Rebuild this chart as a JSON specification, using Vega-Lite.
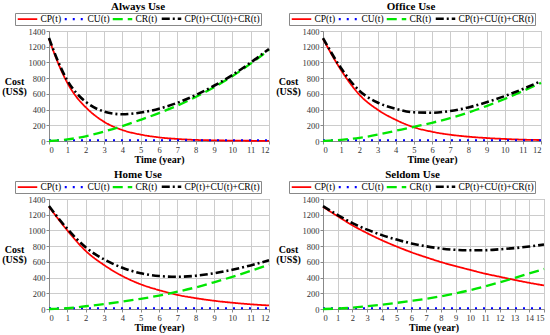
{
  "$schema": "https://vega.github.io/schema/vega-lite/v6.json",
  "padding": {"left": 1, "top": 0, "right": 0, "bottom": 0},
  "background": "white",
  "config": {
    "view": {"stroke": "#999999", "strokeWidth": 1},
    "title": {"font": "Liberation Serif", "fontSize": 11, "fontWeight": "bold", "color": "#000", "offset": 1, "frame": "bounds", "anchor": "middle"},
    "axis": {"grid": true, "gridColor": "#cccccc", "gridWidth": 1, "domainColor": "#888888", "tickSize": 3, "tickColor": "#888888", "labelFont": "Liberation Serif", "labelFontSize": 8.5, "labelColor": "#333333", "labelPadding": 1, "titleFont": "Liberation Serif", "titleFontSize": 10, "titleFontWeight": "bold", "titleColor": "#000", "titleLineHeight": 10.5},
    "legend": {"labelFont": "Liberation Serif", "labelFontSize": 9.5, "labelColor": "#000", "symbolType": "M-1,0H5.5", "symbolSize": 36, "strokeColor": "#888888", "padding": 1, "columnPadding": -2, "labelOffset": 15, "symbolStrokeWidth": 2}
  },
  "datasets": {
    "always": [
      {"t":0,"s":"CP(t)","v":1300},{"t":0.5,"s":"CP(t)","v":990},{"t":1,"s":"CP(t)","v":740},{"t":1.5,"s":"CP(t)","v":560},{"t":2,"s":"CP(t)","v":430},{"t":3,"s":"CP(t)","v":245},{"t":4,"s":"CP(t)","v":140},{"t":5,"s":"CP(t)","v":82},{"t":6,"s":"CP(t)","v":46},{"t":7,"s":"CP(t)","v":26},{"t":8,"s":"CP(t)","v":14},{"t":9,"s":"CP(t)","v":8},{"t":10,"s":"CP(t)","v":5},{"t":11,"s":"CP(t)","v":3},{"t":12,"s":"CP(t)","v":2},
      {"t":0,"s":"CU(t)","v":10},{"t":12,"s":"CU(t)","v":10},
      {"t":0,"s":"CR(t)","v":0},{"t":1,"s":"CR(t)","v":20},{"t":2,"s":"CR(t)","v":60},{"t":3,"s":"CR(t)","v":120},{"t":4,"s":"CR(t)","v":190},{"t":5,"s":"CR(t)","v":270},{"t":6,"s":"CR(t)","v":355},{"t":7,"s":"CR(t)","v":450},{"t":8,"s":"CR(t)","v":560},{"t":9,"s":"CR(t)","v":685},{"t":10,"s":"CR(t)","v":825},{"t":11,"s":"CR(t)","v":985},{"t":12,"s":"CR(t)","v":1160},
      {"t":0,"s":"CP(t)+CU(t)+CR(t)","v":1310},{"t":0.5,"s":"CP(t)+CU(t)+CR(t)","v":1010},{"t":1,"s":"CP(t)+CU(t)+CR(t)","v":770},{"t":1.5,"s":"CP(t)+CU(t)+CR(t)","v":610},{"t":2,"s":"CP(t)+CU(t)+CR(t)","v":500},{"t":3,"s":"CP(t)+CU(t)+CR(t)","v":375},{"t":4,"s":"CP(t)+CU(t)+CR(t)","v":340},{"t":5,"s":"CP(t)+CU(t)+CR(t)","v":362},{"t":6,"s":"CP(t)+CU(t)+CR(t)","v":411},{"t":7,"s":"CP(t)+CU(t)+CR(t)","v":486},{"t":8,"s":"CP(t)+CU(t)+CR(t)","v":584},{"t":9,"s":"CP(t)+CU(t)+CR(t)","v":703},{"t":10,"s":"CP(t)+CU(t)+CR(t)","v":840},{"t":11,"s":"CP(t)+CU(t)+CR(t)","v":998},{"t":12,"s":"CP(t)+CU(t)+CR(t)","v":1172}
    ],
    "office": [
      {"t":0,"s":"CP(t)","v":1300},{"t":1,"s":"CP(t)","v":900},{"t":2,"s":"CP(t)","v":590},{"t":3,"s":"CP(t)","v":400},{"t":4,"s":"CP(t)","v":270},{"t":5,"s":"CP(t)","v":175},{"t":6,"s":"CP(t)","v":118},{"t":7,"s":"CP(t)","v":80},{"t":8,"s":"CP(t)","v":55},{"t":9,"s":"CP(t)","v":38},{"t":10,"s":"CP(t)","v":26},{"t":11,"s":"CP(t)","v":17},{"t":12,"s":"CP(t)","v":12},
      {"t":0,"s":"CU(t)","v":10},{"t":12,"s":"CU(t)","v":10},
      {"t":0,"s":"CR(t)","v":0},{"t":1,"s":"CR(t)","v":15},{"t":2,"s":"CR(t)","v":40},{"t":3,"s":"CR(t)","v":80},{"t":4,"s":"CR(t)","v":130},{"t":5,"s":"CR(t)","v":180},{"t":6,"s":"CR(t)","v":232},{"t":7,"s":"CR(t)","v":292},{"t":8,"s":"CR(t)","v":362},{"t":9,"s":"CR(t)","v":445},{"t":10,"s":"CR(t)","v":535},{"t":11,"s":"CR(t)","v":635},{"t":12,"s":"CR(t)","v":740},
      {"t":0,"s":"CP(t)+CU(t)+CR(t)","v":1310},{"t":1,"s":"CP(t)+CU(t)+CR(t)","v":925},{"t":2,"s":"CP(t)+CU(t)+CR(t)","v":640},{"t":3,"s":"CP(t)+CU(t)+CR(t)","v":490},{"t":4,"s":"CP(t)+CU(t)+CR(t)","v":410},{"t":5,"s":"CP(t)+CU(t)+CR(t)","v":365},{"t":6,"s":"CP(t)+CU(t)+CR(t)","v":360},{"t":7,"s":"CP(t)+CU(t)+CR(t)","v":382},{"t":8,"s":"CP(t)+CU(t)+CR(t)","v":427},{"t":9,"s":"CP(t)+CU(t)+CR(t)","v":493},{"t":10,"s":"CP(t)+CU(t)+CR(t)","v":571},{"t":11,"s":"CP(t)+CU(t)+CR(t)","v":662},{"t":12,"s":"CP(t)+CU(t)+CR(t)","v":762}
    ],
    "home": [
      {"t":0,"s":"CP(t)","v":1300},{"t":1,"s":"CP(t)","v":1000},{"t":2,"s":"CP(t)","v":740},{"t":3,"s":"CP(t)","v":560},{"t":4,"s":"CP(t)","v":420},{"t":5,"s":"CP(t)","v":315},{"t":6,"s":"CP(t)","v":240},{"t":7,"s":"CP(t)","v":180},{"t":8,"s":"CP(t)","v":138},{"t":9,"s":"CP(t)","v":105},{"t":10,"s":"CP(t)","v":80},{"t":11,"s":"CP(t)","v":60},{"t":12,"s":"CP(t)","v":45},
      {"t":0,"s":"CU(t)","v":10},{"t":12,"s":"CU(t)","v":10},
      {"t":0,"s":"CR(t)","v":0},{"t":1,"s":"CR(t)","v":10},{"t":2,"s":"CR(t)","v":35},{"t":3,"s":"CR(t)","v":62},{"t":4,"s":"CR(t)","v":95},{"t":5,"s":"CR(t)","v":130},{"t":6,"s":"CR(t)","v":170},{"t":7,"s":"CR(t)","v":220},{"t":8,"s":"CR(t)","v":275},{"t":9,"s":"CR(t)","v":340},{"t":10,"s":"CR(t)","v":410},{"t":11,"s":"CR(t)","v":485},{"t":12,"s":"CR(t)","v":565},
      {"t":0,"s":"CP(t)+CU(t)+CR(t)","v":1310},{"t":1,"s":"CP(t)+CU(t)+CR(t)","v":1020},{"t":2,"s":"CP(t)+CU(t)+CR(t)","v":785},{"t":3,"s":"CP(t)+CU(t)+CR(t)","v":632},{"t":4,"s":"CP(t)+CU(t)+CR(t)","v":525},{"t":5,"s":"CP(t)+CU(t)+CR(t)","v":455},{"t":6,"s":"CP(t)+CU(t)+CR(t)","v":420},{"t":7,"s":"CP(t)+CU(t)+CR(t)","v":410},{"t":8,"s":"CP(t)+CU(t)+CR(t)","v":423},{"t":9,"s":"CP(t)+CU(t)+CR(t)","v":455},{"t":10,"s":"CP(t)+CU(t)+CR(t)","v":500},{"t":11,"s":"CP(t)+CU(t)+CR(t)","v":555},{"t":12,"s":"CP(t)+CU(t)+CR(t)","v":620}
    ],
    "seldom": [
      {"t":0,"s":"CP(t)","v":1300},{"t":1,"s":"CP(t)","v":1180},{"t":2,"s":"CP(t)","v":1065},{"t":3,"s":"CP(t)","v":965},{"t":4,"s":"CP(t)","v":875},{"t":5,"s":"CP(t)","v":795},{"t":6,"s":"CP(t)","v":722},{"t":7,"s":"CP(t)","v":658},{"t":8,"s":"CP(t)","v":598},{"t":9,"s":"CP(t)","v":545},{"t":10,"s":"CP(t)","v":497},{"t":11,"s":"CP(t)","v":450},{"t":12,"s":"CP(t)","v":410},{"t":13,"s":"CP(t)","v":370},{"t":14,"s":"CP(t)","v":333},{"t":15,"s":"CP(t)","v":300},
      {"t":0,"s":"CU(t)","v":10},{"t":15,"s":"CU(t)","v":10},
      {"t":0,"s":"CR(t)","v":0},{"t":1,"s":"CR(t)","v":5},{"t":2,"s":"CR(t)","v":17},{"t":3,"s":"CR(t)","v":35},{"t":4,"s":"CR(t)","v":55},{"t":5,"s":"CR(t)","v":78},{"t":6,"s":"CR(t)","v":103},{"t":7,"s":"CR(t)","v":130},{"t":8,"s":"CR(t)","v":162},{"t":9,"s":"CR(t)","v":198},{"t":10,"s":"CR(t)","v":240},{"t":11,"s":"CR(t)","v":288},{"t":12,"s":"CR(t)","v":340},{"t":13,"s":"CR(t)","v":395},{"t":14,"s":"CR(t)","v":452},{"t":15,"s":"CR(t)","v":510},
      {"t":0,"s":"CP(t)+CU(t)+CR(t)","v":1310},{"t":1,"s":"CP(t)+CU(t)+CR(t)","v":1195},{"t":2,"s":"CP(t)+CU(t)+CR(t)","v":1092},{"t":3,"s":"CP(t)+CU(t)+CR(t)","v":1010},{"t":4,"s":"CP(t)+CU(t)+CR(t)","v":940},{"t":5,"s":"CP(t)+CU(t)+CR(t)","v":883},{"t":6,"s":"CP(t)+CU(t)+CR(t)","v":835},{"t":7,"s":"CP(t)+CU(t)+CR(t)","v":798},{"t":8,"s":"CP(t)+CU(t)+CR(t)","v":770},{"t":9,"s":"CP(t)+CU(t)+CR(t)","v":753},{"t":10,"s":"CP(t)+CU(t)+CR(t)","v":747},{"t":11,"s":"CP(t)+CU(t)+CR(t)","v":748},{"t":12,"s":"CP(t)+CU(t)+CR(t)","v":760},{"t":13,"s":"CP(t)+CU(t)+CR(t)","v":775},{"t":14,"s":"CP(t)+CU(t)+CR(t)","v":795},{"t":15,"s":"CP(t)+CU(t)+CR(t)","v":820}
    ]
  },
  "spacing": 3,
  "vconcat": [
    {"hconcat": [
      {"title": "Always Use", "width": 220, "height": 110, "data": {"name": "always"},
       "mark": {"type": "line", "interpolate": "monotone", "strokeCap": "butt"},
       "encoding": {
         "x": {"field": "t", "type": "quantitative", "scale": {"domain": [0, 12], "nice": false}, "axis": {"values": [0,1,2,3,4,5,6,7,8,9,10,11,12], "title": "Time (year)", "titlePadding": 1}},
         "y": {"field": "v", "type": "quantitative", "scale": {"domain": [0, 1400], "nice": false}, "axis": {"values": [0,200,400,600,800,1000,1200,1400], "format": "d", "title": ["Cost", "(US$)"], "titleAngle": 0, "titleAlign": "center", "titleBaseline": "middle", "titleX": -35, "titleY": 50}},
         "color": {"field": "s", "type": "nominal", "title": null, "scale": {"domain": ["CP(t)","CU(t)","CR(t)","CP(t)+CU(t)+CR(t)"], "range": ["#ff0000","#0000ff","#00e600","#000000"]}, "legend": {"orient": "none", "direction": "horizontal", "columns": 4, "legendX": -34, "legendY": -18}},
         "strokeDash": {"field": "s", "type": "nominal", "title": null, "scale": {"domain": ["CP(t)","CU(t)","CR(t)","CP(t)+CU(t)+CR(t)"], "range": [[1,0],[2,6],[10,5],[8,3,2,3]]}},
         "strokeWidth": {"field": "s", "type": "nominal", "title": null, "scale": {"domain": ["CP(t)","CU(t)","CR(t)","CP(t)+CU(t)+CR(t)"], "range": [1.8,2.6,2,2]}},
         "order": {"field": "t", "type": "quantitative"}
       }},
      {"title": "Office Use", "width": 218, "height": 110, "data": {"name": "office"},
       "mark": {"type": "line", "interpolate": "monotone", "strokeCap": "butt"},
       "encoding": {
         "x": {"field": "t", "type": "quantitative", "scale": {"domain": [0, 12], "nice": false}, "axis": {"values": [0,1,2,3,4,5,6,7,8,9,10,11,12], "title": "Time (year)", "titlePadding": 1}},
         "y": {"field": "v", "type": "quantitative", "scale": {"domain": [0, 1400], "nice": false}, "axis": {"values": [0,200,400,600,800,1000,1200,1400], "format": "d", "title": ["Cost", "(US$)"], "titleAngle": 0, "titleAlign": "center", "titleBaseline": "middle", "titleX": -35, "titleY": 50}},
         "color": {"field": "s", "type": "nominal", "title": null, "scale": {"domain": ["CP(t)","CU(t)","CR(t)","CP(t)+CU(t)+CR(t)"], "range": ["#ff0000","#0000ff","#00e600","#000000"]}, "legend": {"orient": "none", "direction": "horizontal", "columns": 4, "legendX": -34, "legendY": -18}},
         "strokeDash": {"field": "s", "type": "nominal", "title": null, "scale": {"domain": ["CP(t)","CU(t)","CR(t)","CP(t)+CU(t)+CR(t)"], "range": [[1,0],[2,6],[10,5],[8,3,2,3]]}},
         "strokeWidth": {"field": "s", "type": "nominal", "title": null, "scale": {"domain": ["CP(t)","CU(t)","CR(t)","CP(t)+CU(t)+CR(t)"], "range": [1.8,2.6,2,2]}},
         "order": {"field": "t", "type": "quantitative"}
       }}
    ], "spacing": 0,
    "resolve": {"scale": {"color": "independent", "strokeDash": "independent", "strokeWidth": "independent", "x": "independent", "y": "independent"}, "legend": {"color": "independent", "strokeDash": "independent", "strokeWidth": "independent"}}},
    {"hconcat": [
      {"title": "Home Use", "width": 220, "height": 110, "data": {"name": "home"},
       "mark": {"type": "line", "interpolate": "monotone", "strokeCap": "butt"},
       "encoding": {
         "x": {"field": "t", "type": "quantitative", "scale": {"domain": [0, 12], "nice": false}, "axis": {"values": [0,1,2,3,4,5,6,7,8,9,10,11,12], "title": "Time (year)", "titlePadding": 1}},
         "y": {"field": "v", "type": "quantitative", "scale": {"domain": [0, 1400], "nice": false}, "axis": {"values": [0,200,400,600,800,1000,1200,1400], "format": "d", "title": ["Cost", "(US$)"], "titleAngle": 0, "titleAlign": "center", "titleBaseline": "middle", "titleX": -35, "titleY": 50}},
         "color": {"field": "s", "type": "nominal", "title": null, "scale": {"domain": ["CP(t)","CU(t)","CR(t)","CP(t)+CU(t)+CR(t)"], "range": ["#ff0000","#0000ff","#00e600","#000000"]}, "legend": {"orient": "none", "direction": "horizontal", "columns": 4, "legendX": -34, "legendY": -18}},
         "strokeDash": {"field": "s", "type": "nominal", "title": null, "scale": {"domain": ["CP(t)","CU(t)","CR(t)","CP(t)+CU(t)+CR(t)"], "range": [[1,0],[2,6],[10,5],[8,3,2,3]]}},
         "strokeWidth": {"field": "s", "type": "nominal", "title": null, "scale": {"domain": ["CP(t)","CU(t)","CR(t)","CP(t)+CU(t)+CR(t)"], "range": [1.8,2.6,2,2]}},
         "order": {"field": "t", "type": "quantitative"}
       }},
      {"title": "Seldom Use", "width": 221, "height": 110, "data": {"name": "seldom"},
       "mark": {"type": "line", "interpolate": "monotone", "strokeCap": "butt"},
       "encoding": {
         "x": {"field": "t", "type": "quantitative", "scale": {"domain": [0, 15], "nice": false}, "axis": {"values": [0,1,2,3,4,5,6,7,8,9,10,11,12,13,14,15], "title": "Time (year)", "titlePadding": 1}},
         "y": {"field": "v", "type": "quantitative", "scale": {"domain": [0, 1400], "nice": false}, "axis": {"values": [0,200,400,600,800,1000,1200,1400], "format": "d", "title": ["Cost", "(US$)"], "titleAngle": 0, "titleAlign": "center", "titleBaseline": "middle", "titleX": -35, "titleY": 50}},
         "color": {"field": "s", "type": "nominal", "title": null, "scale": {"domain": ["CP(t)","CU(t)","CR(t)","CP(t)+CU(t)+CR(t)"], "range": ["#ff0000","#0000ff","#00e600","#000000"]}, "legend": {"orient": "none", "direction": "horizontal", "columns": 4, "legendX": -34, "legendY": -18}},
         "strokeDash": {"field": "s", "type": "nominal", "title": null, "scale": {"domain": ["CP(t)","CU(t)","CR(t)","CP(t)+CU(t)+CR(t)"], "range": [[1,0],[2,6],[10,5],[8,3,2,3]]}},
         "strokeWidth": {"field": "s", "type": "nominal", "title": null, "scale": {"domain": ["CP(t)","CU(t)","CR(t)","CP(t)+CU(t)+CR(t)"], "range": [1.8,2.6,2,2]}},
         "order": {"field": "t", "type": "quantitative"}
       }}
    ], "spacing": 0,
    "resolve": {"scale": {"color": "independent", "strokeDash": "independent", "strokeWidth": "independent", "x": "independent", "y": "independent"}, "legend": {"color": "independent", "strokeDash": "independent", "strokeWidth": "independent"}}}
  ],
  "resolve": {"scale": {"color": "independent", "strokeDash": "independent", "strokeWidth": "independent", "x": "independent", "y": "independent"}, "legend": {"color": "independent", "strokeDash": "independent", "strokeWidth": "independent"}}
}
